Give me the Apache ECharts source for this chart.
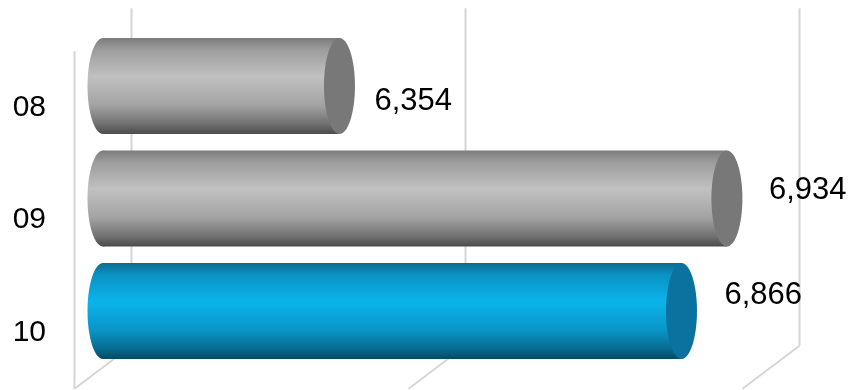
<!DOCTYPE html>
<html><head><meta charset="utf-8">
<script src="https://cdn.jsdelivr.net/npm/echarts@6/dist/echarts.min.js"></script>
<style>html,body{margin:0;padding:0;background:#fff}#c{width:851px;height:390px}</style>
</head><body><div id="c"></div>
<script>
// ---- data ----
const categories = ['08', '09', '10'];
const values = [6354, 6934, 6866];
const xTicks = [6000, 6500, 7000];
const axisMin = 6000, axisMax = 7000, axisStep = 500;
const barColors = ['gray', 'gray', 'blue'];

// ---- styling ----
const DX = 28.5, DY = 21.5; // half of 3D depth offset
const labelDx = [35, 42, 43], labelDy = [15, -8, -16];
const FONT = '"Liberation Sans", Arial, sans-serif';
const palettes = {
  gray: { stops: [[0, '#7c7c7c'], [0.12, '#9c9c9c'], [0.4, '#c1c1c1'], [0.7, '#a3a3a3'], [0.9, '#6f6f6f'], [1, '#4b4b4b']], cap: '#787878' },
  blue: { stops: [[0, '#0a6b8f'], [0.12, '#0a92c2'], [0.4, '#0bb4ec'], [0.7, '#0a95c7'], [0.9, '#066a8e'], [1, '#044a63']], cap: '#0b72a0' }
};

function renderFrame(params, api) {
  const cs = params.coordSys;
  const top = cs.y, bottom = cs.y + cs.height;
  const lineStyle = { stroke: '#d6d6d6', lineWidth: 2 };
  const children = [];
  xTicks.forEach(t => {
    const x = api.coord([t, 0])[0];
    children.push({ type: 'line', shape: { x1: x + DX, y1: top - DY, x2: x + DX, y2: bottom - DY }, style: lineStyle });
    children.push({ type: 'line', shape: { x1: x + DX, y1: bottom - DY, x2: x - DX, y2: bottom + DY }, style: lineStyle });
  });
  const x0 = api.coord([axisMin, 0])[0];
  children.push({ type: 'line', shape: { x1: x0 - DX, y1: top + DY, x2: x0 - DX, y2: bottom + DY }, style: lineStyle });
  return { type: 'group', children };
}

function renderBar(params, api) {
  const i = params.dataIndex;
  const v = api.value(0);
  const c = api.value(1);
  const s = api.coord([axisMin, c]);
  const e = api.coord([v, c]);
  const band = api.size([0, 1])[1];
  const h = band * 0.853;
  const rx = 15.5, ry = h / 2;
  const cy = s[1];
  const pal = palettes[barColors[i]];
  const grad = () => new echarts.graphic.LinearGradient(0, 0, 0, 1, pal.stops.map(p => ({ offset: p[0], color: p[1] })));
  return {
    type: 'group',
    children: [
      { type: 'ellipse', shape: { cx: s[0], cy: cy, rx: rx, ry: ry }, style: { fill: grad() } },
      { type: 'rect', shape: { x: s[0], y: cy - ry, width: e[0] - s[0], height: h }, style: { fill: grad() } },
      { type: 'ellipse', shape: { cx: e[0], cy: cy, rx: rx, ry: ry }, style: { fill: pal.cap } },
      { type: 'text', x: e[0] + labelDx[i], y: cy + labelDy[i],
        style: { text: v.toLocaleString('en-US'), fill: '#000', font: '31px ' + FONT, align: 'left', verticalAlign: 'middle' } },
      { type: 'text', x: s[0] - 57, y: cy + DY,
        style: { text: categories[c], fill: '#000', font: '30px ' + FONT, align: 'right', verticalAlign: 'middle' } }
    ]
  };
}

const chart = echarts.init(document.getElementById('c'), null, { renderer: 'canvas' });
chart.setOption({
  animation: false,
  backgroundColor: '#ffffff',
  grid: { left: 103, width: 668, top: 29.75, height: 337.5, containLabel: false },
  xAxis: {
    type: 'value', min: axisMin, max: axisMax, interval: axisStep,
    axisLine: { show: false }, axisTick: { show: false }, axisLabel: { show: false }, splitLine: { show: false }
  },
  yAxis: {
    type: 'category', data: categories, inverse: true,
    axisLine: { show: false }, axisTick: { show: false }, splitLine: { show: false },
    axisLabel: { show: false }
  },
  series: [
    { type: 'custom', renderItem: renderFrame, data: [[axisMin, 0]], z: 1, silent: true },
    { type: 'custom', renderItem: renderBar, data: values.map((v, i) => [v, i]), z: 2,
      encode: { x: 0, y: 1 } }
  ]
});
</script>
</body></html>
